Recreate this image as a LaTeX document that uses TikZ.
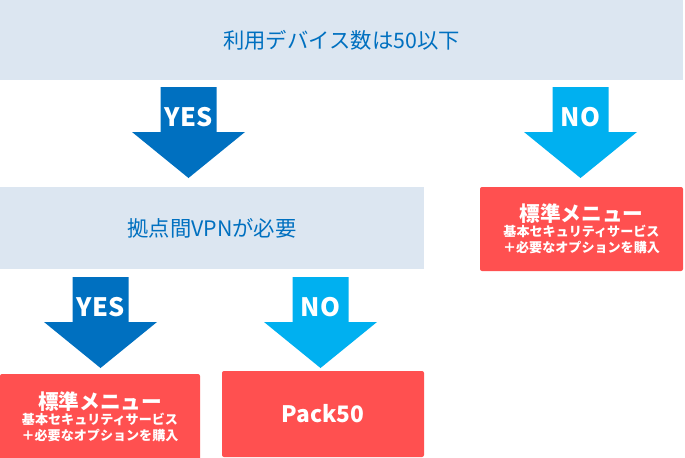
\documentclass[tikz,border=0pt]{standalone}
\usepackage{fontspec}
\setmainfont{Noto Sans CJK JP}
\definecolor{askgray}{HTML}{DCE6F1}
\definecolor{yesblue}{HTML}{0070C0}
\definecolor{noblue}{HTML}{00B0F0}
\definecolor{menured}{HTML}{FF5050}
\tikzset{
  question/.style={fill=askgray, text=yesblue, inner sep=0pt, font=\fontsize{16}{18}\selectfont},
  answer/.style={fill=menured, rounded corners=1.5pt, text=white, inner sep=0pt, align=center, font=\bfseries},
  arrowlabel/.style={text=white, font=\fontsize{19}{20}\selectfont\bfseries}
}
\newcommand{\menutext}{\fontsize{15.5}{20}\selectfont 標準メニュー\\[-1pt]
  \fontsize{9.8}{12.5}\selectfont 基本セキュリティサービス\\
  \fontsize{9.8}{12.5}\selectfont ＋必要なオプションを購入}
\begin{document}
\begin{tikzpicture}[x=0.75pt,y=-0.75pt]

  %--- Cadre (pixels) ---
  \useasboundingbox (0,0) rectangle (685,457);

  %--- Questions ---
  \node[question, minimum width=683*0.75pt, minimum height=80*0.75pt] (devices) at (341.5,40) {利用デバイス数は50以下};
  \node[question, minimum width=424*0.75pt, minimum height=82*0.75pt] (vpn) at (212,228) {拠点間VPNが必要};

  %--- Résultats ---
  \node[answer, minimum width=203*0.75pt, minimum height=84*0.75pt] (menuA) at (581.5,229) {\menutext};
  \node[answer, minimum width=200*0.75pt, minimum height=86*0.75pt] (menuB) at (100,417) {\menutext};
  \node[answer, minimum width=202*0.75pt, minimum height=86*0.75pt,
        font=\fontsize{17}{18}\selectfont\bfseries] (pack) at (323,414) {Pack50};

  %--- Flèches YES / NO ---
  \foreach \cx/\ty/\col/\lab in {188.5/87/yesblue/YES, 580.5/87/noblue/NO,
                                 100.5/277/yesblue/YES, 320.5/277/noblue/NO}{
    \fill[\col] (\cx-28,\ty) -- (\cx+28,\ty) -- (\cx+28,\ty+45) -- (\cx+56.5,\ty+45)
       -- (\cx,\ty+91) -- (\cx-56.5,\ty+45) -- (\cx-28,\ty+45) -- cycle;
    \node[arrowlabel] (lab-\lab-\ty) at (\cx,\ty+30) {\lab};
  }

\end{tikzpicture}
\end{document}
